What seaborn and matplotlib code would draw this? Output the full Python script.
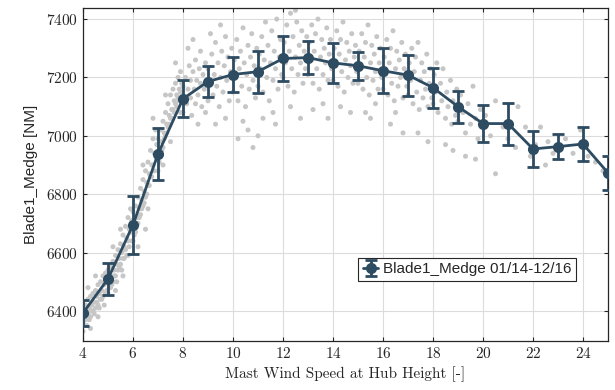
import matplotlib
matplotlib.use('Agg')
import matplotlib.pyplot as plt
import seaborn as sns
import pandas as pd

# ── binned mean / std of the edgewise moment ─────────────────────────
wind_bins  = [4, 5, 6, 7, 8, 9, 10, 11, 12, 13, 14, 15, 16, 17, 18, 19, 20, 21, 22, 23, 24, 25]
medge_mean = [6393, 6510, 6695, 6938, 7127, 7186, 7210, 7220, 7265, 7268, 7250,
              7240, 7223, 7208, 7165, 7100, 7042, 7042, 6955, 6963, 6972, 6873]
medge_std  = [45, 55, 100, 90, 63, 52, 60, 72, 78, 56, 68,
              48, 77, 70, 68, 55, 63, 72, 62, 43, 58, 58]

# ── raw 10-min samples ─────────────────────
cloud_ws = [
    4.0, 4.0, 4.05, 4.1, 4.1, 4.15, 4.2, 4.2, 4.25, 4.3, 4.3, 4.35, 4.4, 4.4, 4.45, 4.5, 4.5,
    4.55, 4.6, 4.6, 4.65, 4.7, 4.7, 4.75, 4.8, 4.8, 4.85, 4.9, 4.9, 4.95, 4.3, 4.6, 4.2, 4.5,
    4.05, 4.15, 4.25, 4.35, 4.45, 4.55, 4.65, 4.75, 4.85, 4.95,
    5.0, 5.0, 5.05, 5.1, 5.1, 5.15, 5.2, 5.2, 5.25, 5.3, 5.3, 5.35, 5.4, 5.4, 5.45, 5.5, 5.5,
    5.55, 5.6, 5.6, 5.65, 5.7, 5.7, 5.75, 5.8, 5.8, 5.85, 5.9, 5.9, 5.95, 5.3, 5.6, 5.2, 5.5, 5.8,
    5.05, 5.15, 5.25, 5.35, 5.45, 5.55, 5.65, 5.75, 5.85, 5.95,
    6.0, 6.0, 6.05, 6.1, 6.1, 6.15, 6.2, 6.2, 6.25, 6.3, 6.3, 6.35, 6.4, 6.4, 6.45, 6.5, 6.5,
    6.55, 6.6, 6.6, 6.65, 6.7, 6.7, 6.75, 6.8, 6.8, 6.85, 6.9, 6.9, 6.95, 6.2, 6.4, 6.6, 6.8, 6.5,
    6.05, 6.15, 6.25, 6.35, 6.45, 6.55, 6.65, 6.75, 6.85, 6.95,
    7.0, 7.0, 7.05, 7.1, 7.1, 7.15, 7.2, 7.2, 7.25, 7.3, 7.3, 7.35, 7.4, 7.4, 7.45, 7.5, 7.5,
    7.55, 7.6, 7.6, 7.65, 7.7, 7.7, 7.75, 7.8, 7.8, 7.85, 7.9, 7.9, 7.95, 7.3, 7.5, 7.7, 7.2, 7.9,
    7.05, 7.15, 7.25, 7.35, 7.45, 7.55, 7.65, 7.75, 7.85, 7.95,
    8.0, 8.0, 8.05, 8.1, 8.15, 8.2, 8.25, 8.3, 8.3, 8.35, 8.4, 8.45, 8.5, 8.5, 8.55, 8.6, 8.65,
    8.7, 8.7, 8.75, 8.8, 8.85, 8.9, 8.95, 8.2, 8.6, 8.4, 8.9,
    9.0, 9.0, 9.1, 9.15, 9.2, 9.25, 9.3, 9.35, 9.4, 9.45, 9.5, 9.55, 9.6, 9.65, 9.7, 9.75,
    9.8, 9.85, 9.9, 9.95, 9.3, 9.7, 9.5, 9.1,
    10.0, 10.05, 10.1, 10.15, 10.2, 10.25, 10.3, 10.35, 10.4, 10.45, 10.5, 10.55, 10.6, 10.65,
    10.7, 10.75, 10.8, 10.85, 10.9, 10.95, 10.2, 10.6, 10.8, 10.4,
    11.0, 11.05, 11.1, 11.15, 11.2, 11.25, 11.3, 11.35, 11.4, 11.45, 11.5, 11.55, 11.6, 11.65,
    11.7, 11.75, 11.8, 11.85, 11.9, 11.95, 11.2, 11.6, 11.0, 11.7,
    12.0, 12.05, 12.1, 12.15, 12.2, 12.25, 12.3, 12.35, 12.4, 12.45, 12.5, 12.55, 12.6, 12.65,
    12.7, 12.75, 12.8, 12.85, 12.9, 12.95, 12.3, 12.7, 12.5,
    13.0, 13.05, 13.1, 13.15, 13.2, 13.25, 13.3, 13.35, 13.4, 13.45, 13.5, 13.55, 13.6, 13.65,
    13.7, 13.75, 13.8, 13.85, 13.9, 13.95, 13.2, 13.6, 13.8,
    14.0, 14.05, 14.1, 14.15, 14.2, 14.25, 14.3, 14.35, 14.4, 14.45, 14.5, 14.55, 14.6, 14.65,
    14.7, 14.75, 14.8, 14.85, 14.9, 14.95, 14.3, 14.7,
    15.0, 15.05, 15.1, 15.15, 15.2, 15.25, 15.3, 15.35, 15.4, 15.45, 15.5, 15.55, 15.6, 15.65,
    15.7, 15.75, 15.8, 15.85, 15.9, 15.95, 15.3, 15.7, 15.5,
    16.0, 16.05, 16.1, 16.15, 16.2, 16.25, 16.3, 16.35, 16.4, 16.45, 16.5, 16.55, 16.6, 16.65,
    16.7, 16.75, 16.8, 16.85, 16.9, 16.95, 16.3, 16.8, 16.5,
    17.0, 17.05, 17.1, 17.15, 17.2, 17.25, 17.3, 17.35, 17.4, 17.45, 17.5, 17.55, 17.6, 17.65,
    17.7, 17.75, 17.8, 17.85, 17.9, 17.95, 17.4, 17.8,
    18.0, 18.05, 18.1, 18.15, 18.2, 18.3, 18.35, 18.4, 18.5, 18.55, 18.6, 18.7, 18.75, 18.8,
    18.9, 18.95, 18.5, 18.8,
    19.0, 19.1, 19.2, 19.3, 19.4, 19.5, 19.6, 19.7, 19.8, 19.9, 19.3, 19.7,
    20.1, 20.3, 20.5, 20.8, 21.0, 21.3, 21.4, 21.7, 21.9, 22.1, 22.3, 22.6, 22.8, 23.1, 23.3,
    23.6, 23.9, 24.2, 24.5, 24.8, 22.5, 20.5,
]
cloud_medge = [
    6330, 6360, 6400, 6370, 6420, 6350, 6390, 6440, 6410, 6380, 6450, 6420, 6400, 6460, 6430, 6410, 6470,
    6450, 6420, 6490, 6460, 6440, 6500, 6470, 6450, 6520, 6490, 6460, 6530, 6500, 6340, 6380, 6480, 6520,
    6380, 6400, 6370, 6400, 6390, 6430, 6410, 6440, 6420, 6470,
    6460, 6540, 6500, 6480, 6550, 6520, 6500, 6570, 6540, 6520, 6590, 6560, 6540, 6610, 6580, 6560, 6630,
    6600, 6580, 6660, 6620, 6610, 6690, 6650, 6640, 6720, 6680, 6670, 6750, 6710, 6470, 6520, 6620, 6680, 6590,
    6480, 6490, 6520, 6500, 6550, 6540, 6580, 6590, 6620, 6640,
    6640, 6740, 6690, 6670, 6760, 6720, 6700, 6790, 6750, 6730, 6820, 6780, 6760, 6850, 6810, 6790, 6880,
    6840, 6830, 6910, 6870, 6860, 6950, 6900, 6900, 6990, 6940, 6930, 7020, 6970, 6620, 6900, 6750, 7060, 6680,
    6660, 6700, 6720, 6750, 6770, 6800, 6830, 6860, 6880, 6920,
    6880, 6990, 6940, 6930, 7020, 6980, 6960, 7050, 7010, 7000, 7080, 7040, 7030, 7110, 7070, 7060, 7140,
    7090, 7090, 7160, 7120, 7110, 7180, 7140, 7130, 7200, 7160, 7150, 7220, 7180, 7140, 6980, 7250, 6900, 7080,
    6910, 6950, 6990, 7010, 7040, 7060, 7080, 7100, 7120, 7130,
    7080, 7170, 7130, 7200, 7110, 7160, 7240, 7130, 7190, 7070, 7220, 7160, 7110, 7260, 7190, 7140, 7230,
    7180, 7290, 7100, 7210, 7160, 7250, 7190, 7300, 7040, 7330, 7080,
    7120, 7230, 7180, 7280, 7140, 7210, 7320, 7170, 7250, 7100, 7200, 7290, 7150, 7240, 7340, 7190,
    7270, 7120, 7220, 7300, 7040, 7060, 7380, 7350,
    7150, 7260, 7200, 7330, 7120, 7230, 7290, 7170, 7370, 7250, 7100, 7210, 7310, 7160,
    7270, 7350, 7190, 7240, 7130, 7300, 6990, 7020, 6960, 7050,
    7170, 7280, 7230, 7340, 7150, 7260, 7390, 7200, 7310, 7120, 7250, 7360, 7190, 7290,
    7230, 7400, 7160, 7270, 7330, 7210, 7060, 7080, 7000, 7040,
    7200, 7320, 7250, 7380, 7170, 7290, 7420, 7230, 7340, 7150, 7270, 7390, 7210, 7310,
    7250, 7360, 7180, 7290, 7230, 7340, 7100, 7060, 7430,
    7210, 7320, 7260, 7380, 7180, 7290, 7350, 7230, 7400, 7160, 7270, 7330, 7210, 7300,
    7250, 7370, 7190, 7280, 7330, 7230, 7090, 7110, 7060,
    7190, 7300, 7250, 7360, 7170, 7280, 7330, 7220, 7390, 7150, 7260, 7320, 7200, 7290,
    7240, 7350, 7180, 7270, 7310, 7220, 7100, 7080,
    7180, 7290, 7230, 7350, 7160, 7270, 7320, 7200, 7380, 7140, 7250, 7310, 7190, 7280,
    7220, 7340, 7160, 7250, 7300, 7200, 7080, 7110, 7060,
    7160, 7270, 7210, 7330, 7140, 7250, 7300, 7180, 7360, 7120, 7230, 7290, 7170, 7260,
    7200, 7320, 7130, 7230, 7280, 7170, 7040, 7010, 7080,
    7140, 7250, 7190, 7300, 7110, 7220, 7270, 7150, 7320, 7090, 7190, 7250, 7130, 7220,
    7160, 7280, 7100, 7180, 7230, 7130, 7010, 6980,
    7110, 7210, 7150, 7250, 7080, 7180, 7120, 7230, 7060, 7150, 7100, 7190, 7040, 7120,
    7070, 7160, 6970, 6950,
    7050, 7140, 7080, 7010, 7110, 7040, 7170, 7060, 6990, 7090, 6930, 6920,
    7070, 7000, 7120, 7030, 6990, 6960, 7100, 7030, 6930, 6970, 7030, 6980, 6940, 6960, 6990,
    6940, 7020, 6930, 6910, 6880, 6900, 6870,
]

LINE_COLOR = '#2d4b61'
DOT_COLOR  = '#c6c6c6'

sns.set_style('ticks')
plt.rcParams['font.family'] = ['cmr10', 'DejaVu Serif']
plt.rcParams['axes.formatter.use_mathtext'] = True

cloud = pd.DataFrame({'ws': cloud_ws, 'medge': cloud_medge})

fig = plt.figure(figsize=(6.15, 3.9), dpi=100)
ax = fig.add_axes([83/615, 49/390, 525/615, 333/390])

sns.scatterplot(data=cloud, x='ws', y='medge', ax=ax, s=13, color=DOT_COLOR,
                edgecolor='none', linewidth=0, zorder=2, legend=False)

ax.errorbar(wind_bins, medge_mean, yerr=medge_std, color=LINE_COLOR, lw=2,
            marker='o', ms=7, capsize=4, capthick=2, elinewidth=2, zorder=3,
            label='Blade1_Medge 01/14-12/16')

ax.set_xlim(4, 25)
ax.set_ylim(6297, 7438)
ax.set_xticks(range(4, 25, 2))
ax.set_yticks(range(6400, 7401, 200))
ax.grid(True, color='#dcdcdc', lw=0.8, zorder=0)
ax.set_axisbelow(True)
ax.tick_params(direction='in', top=True, right=True, length=3, width=0.8,
               labelsize=11, colors='#262626')
for s in ax.spines.values():
    s.set_color('#262626')
    s.set_linewidth(0.9)

ax.set_xlabel('Mast Wind Speed at Hub Height [-]', fontsize=11, labelpad=4)
ax.set_ylabel('Blade1_Medge [NM]', fontsize=11, family=['Liberation Sans', 'DejaVu Sans'],
              labelpad=6)

leg = ax.legend(loc='center left', bbox_to_anchor=(0.51, 0.215), fancybox=False,
                edgecolor='#262626', framealpha=1, handlelength=1.0, handletextpad=0.3,
                borderpad=0.3, prop={'family': ['Liberation Sans', 'DejaVu Sans'], 'size': 11})
leg.get_frame().set_linewidth(0.8)

fig.savefig('out.png', dpi=100)
